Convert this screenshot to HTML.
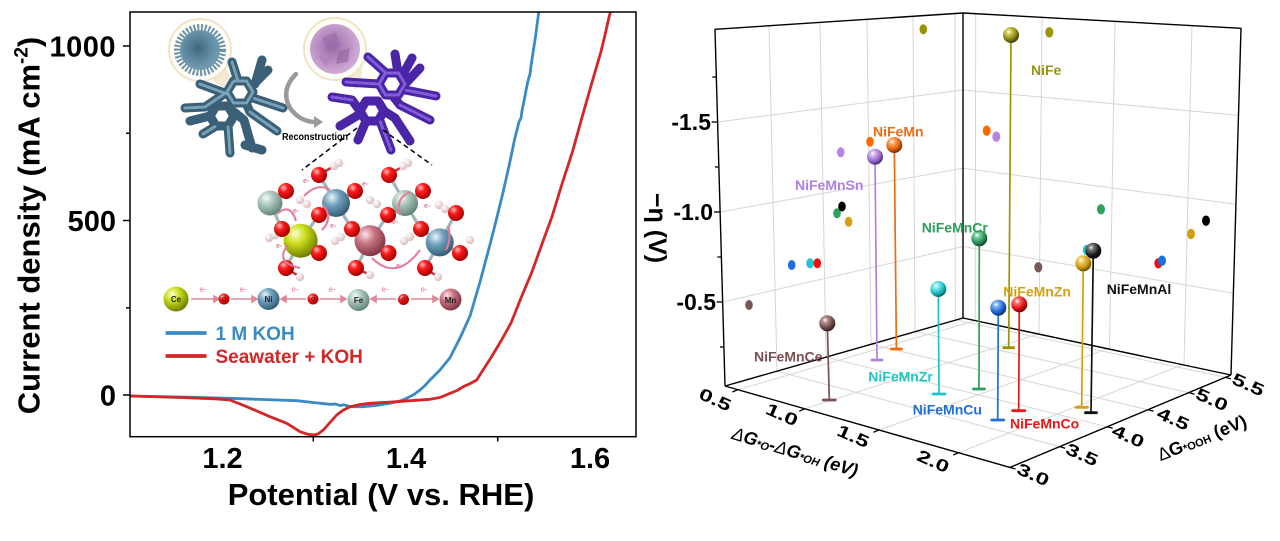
<!DOCTYPE html>
<html><head><meta charset="utf-8"><style>
html,body{margin:0;padding:0;background:#fff}
svg{display:block}
text{font-family:"Liberation Sans",Arial,sans-serif}
</style></head><body>
<svg xmlns="http://www.w3.org/2000/svg" width="1280" height="541" viewBox="0 0 1280 541">
<defs>
<clipPath id="cl"><rect x="130" y="12" width="506" height="424.7"/></clipPath>
<radialGradient id="gOl" cx="0.36" cy="0.3" r="0.75"><stop offset="0" stop-color="#fff"/><stop offset="0.22" stop-color="#d2cc5a"/><stop offset="0.65" stop-color="#85800a"/><stop offset="1" stop-color="#333000"/></radialGradient>
<radialGradient id="gOr" cx="0.36" cy="0.3" r="0.75"><stop offset="0" stop-color="#fff"/><stop offset="0.22" stop-color="#ffa860"/><stop offset="0.65" stop-color="#d85e08"/><stop offset="1" stop-color="#602400"/></radialGradient>
<radialGradient id="gPu" cx="0.36" cy="0.3" r="0.75"><stop offset="0" stop-color="#fff"/><stop offset="0.22" stop-color="#d2b4f0"/><stop offset="0.65" stop-color="#9466cc"/><stop offset="1" stop-color="#402060"/></radialGradient>
<radialGradient id="gGr" cx="0.36" cy="0.3" r="0.75"><stop offset="0" stop-color="#fff"/><stop offset="0.22" stop-color="#7ad0a0"/><stop offset="0.65" stop-color="#2a8c56"/><stop offset="1" stop-color="#0c3a20"/></radialGradient>
<radialGradient id="gCy" cx="0.36" cy="0.3" r="0.75"><stop offset="0" stop-color="#fff"/><stop offset="0.22" stop-color="#80eaea"/><stop offset="0.65" stop-color="#16b8bc"/><stop offset="1" stop-color="#055a5c"/></radialGradient>
<radialGradient id="gBl" cx="0.36" cy="0.3" r="0.75"><stop offset="0" stop-color="#fff"/><stop offset="0.22" stop-color="#7ab0f5"/><stop offset="0.65" stop-color="#1a62d0"/><stop offset="1" stop-color="#08285c"/></radialGradient>
<radialGradient id="gRe" cx="0.36" cy="0.3" r="0.75"><stop offset="0" stop-color="#fff"/><stop offset="0.22" stop-color="#ff7070"/><stop offset="0.65" stop-color="#dc0c0c"/><stop offset="1" stop-color="#600000"/></radialGradient>
<radialGradient id="gGo" cx="0.36" cy="0.3" r="0.75"><stop offset="0" stop-color="#fff"/><stop offset="0.22" stop-color="#f2cf66"/><stop offset="0.65" stop-color="#c8950c"/><stop offset="1" stop-color="#5c4000"/></radialGradient>
<radialGradient id="gBk" cx="0.36" cy="0.3" r="0.75"><stop offset="0" stop-color="#eee"/><stop offset="0.22" stop-color="#777"/><stop offset="0.65" stop-color="#1a1a1a"/><stop offset="1" stop-color="#000"/></radialGradient>
<radialGradient id="gBr" cx="0.36" cy="0.3" r="0.75"><stop offset="0" stop-color="#fff"/><stop offset="0.22" stop-color="#b89090"/><stop offset="0.65" stop-color="#6c4848"/><stop offset="1" stop-color="#2c1818"/></radialGradient>
<radialGradient id="aO" cx="0.35" cy="0.3" r="0.75"><stop offset="0" stop-color="#ffc0c0"/><stop offset="0.35" stop-color="#ff1a1a"/><stop offset="1" stop-color="#9a0000"/></radialGradient>
<radialGradient id="aFe" cx="0.35" cy="0.3" r="0.75"><stop offset="0" stop-color="#f4fbf8"/><stop offset="0.4" stop-color="#aac6ba"/><stop offset="1" stop-color="#5f7f72"/></radialGradient>
<radialGradient id="aNi" cx="0.35" cy="0.3" r="0.75"><stop offset="0" stop-color="#e8f4fb"/><stop offset="0.4" stop-color="#6f9fba"/><stop offset="1" stop-color="#2f5870"/></radialGradient>
<radialGradient id="aCe" cx="0.35" cy="0.3" r="0.75"><stop offset="0" stop-color="#fbffd0"/><stop offset="0.4" stop-color="#c8dc18"/><stop offset="1" stop-color="#6a7800"/></radialGradient>
<radialGradient id="aMn" cx="0.35" cy="0.3" r="0.75"><stop offset="0" stop-color="#fde2e8"/><stop offset="0.4" stop-color="#c87382"/><stop offset="1" stop-color="#7a3040"/></radialGradient>
<radialGradient id="aH" cx="0.35" cy="0.3" r="0.75"><stop offset="0" stop-color="#fff"/><stop offset="1" stop-color="#d8b8b8"/></radialGradient>
<radialGradient id="sph1" cx="0.45" cy="0.45" r="0.6"><stop offset="0" stop-color="#3e6a80"/><stop offset="1" stop-color="#7aa4b8"/></radialGradient>
<radialGradient id="sph2" cx="0.45" cy="0.45" r="0.6"><stop offset="0" stop-color="#9a6aa6"/><stop offset="1" stop-color="#d6b2dc"/></radialGradient>
</defs>

<!-- ================= LEFT PLOT ================= -->
<g>
  <polygon points="210,78 226,68 236,88 228,92" fill="#efe0bf" opacity="0.7"/>
  <polygon points="349,78 362,64 361,84 355,90" fill="#efe0bf" opacity="0.7"/>
  <circle cx="200" cy="50" r="31" fill="#fffdf7" stroke="#f1e4c6" stroke-width="2"/>
  <circle cx="335" cy="49" r="31" fill="#fffdf7" stroke="#f1e4c6" stroke-width="2"/>
  <circle cx="200" cy="50" r="20" fill="url(#sph1)"/>
  <circle cx="200" cy="50" r="22" fill="none" stroke="#6e96aa" stroke-width="8" stroke-dasharray="2 1.6"/>
  <circle cx="335" cy="49" r="25" fill="url(#sph2)"/>
  <polygon points="322,38 336,32 340,46 328,52" fill="#9a6aa8" opacity="0.6"/>
  <polygon points="338,52 350,48 348,62 336,64" fill="#8e5e9c" opacity="0.55"/>
  <polygon points="318,55 330,58 326,68" fill="#a978b5" opacity="0.5"/>
  <!-- blue cage -->
  <g fill="none" stroke-linecap="round" stroke-linejoin="round">
    <g stroke="#3a5f77" stroke-width="9">
      <polygon points="253,92 246.5,103 233.5,103 227,92 233.5,81 246.5,81"/>
      <polygon points="234,116 228,126 216,126 210,116 216,106 228,106"/>
      <path d="M185,108 L205,107 L227,92 M200,84 L227,94 M232,62 L238,81 M268,70 L252,86 M283,108 L253,98 M277,131 L250,112 L246,103 M203,134 L216,126 M230,153 L228,126 M252,148 L244,120 L234,112 M190,121 L210,116 M262,60 L255,84 M245,145 L262,150"/>
    </g>
    <g stroke="#7faabc" stroke-width="3" stroke-dasharray="2 2" opacity="0.9">
      <polygon points="253,92 246.5,103 233.5,103 227,92 233.5,81 246.5,81"/>
      <path d="M185,108 L205,107 L227,92 M232,62 L238,81 M283,108 L253,98 M203,134 L216,126 M230,153 L228,126 M277,131 L250,112 M200,84 L227,94"/>
    </g>
  </g>
  <!-- purple cage -->
  <g fill="none" stroke-linecap="round" stroke-linejoin="round">
    <g stroke="#4a26a6" stroke-width="9">
      <polygon points="405,84 398.5,95 385.5,95 379,84 385.5,73 398.5,73"/>
      <polygon points="384,111 378,121 366,121 360,111 366,101 378,101"/>
      <path d="M332,97 L352,100 L360,111 M346,82 L379,84 M368,57 L386,73 M395,54 L398,73 M420,68 L405,84 M436,96 L405,90 M430,120 L400,105 L392,95 M410,141 L395,118 L384,111 M391,150 L380,121 M358,140 L366,121 M340,126 L360,114 M412,58 L402,76"/>
    </g>
    <g stroke="#8a62e0" stroke-width="3" stroke-dasharray="2 2" opacity="0.9">
      <polygon points="405,84 398.5,95 385.5,95 379,84 385.5,73 398.5,73"/>
      <path d="M332,97 L352,100 M368,57 L386,73 M436,96 L405,90 M391,150 L380,121 M346,82 L379,84 M430,120 L400,105"/>
    </g>
  </g>
  <!-- arrow -->
  <path d="M296,74 Q280,90 290,108 Q300,122 316,122" fill="none" stroke="#9a9a9a" stroke-width="4.5" stroke-linecap="round"/>
  <polygon points="314,116 323,122 314,128" fill="#9a9a9a"/>
  <text x="282" y="140" font-family="Liberation Serif,serif" font-weight="bold" font-size="10" textLength="66" lengthAdjust="spacingAndGlyphs">Reconstruction</text>
  <path d="M357,128 L302,170 M383,130 L432,165" stroke="#000" stroke-width="1.5" stroke-dasharray="5 3.5" fill="none"/>
  <!-- molecule bonds -->
  <g stroke="#9fb6bd" stroke-width="3.2" stroke-linecap="round">
    <path d="M270,203 L286,191 M270,203 L282,229 M336,203 L319,175 M336,203 L355,191 M336,203 L319,215 M336,203 L352,229 M405,203 L389,175 M405,203 L423,191 M405,203 L388,215 M405,203 L421,229 M300,241 L282,229 M300,241 L319,215 M300,241 L319,253 M300,241 L286,268 M370,241 L352,229 M370,241 L388,215 M370,241 L388,253 M370,241 L356,268 M440,242 L421,229 M440,242 L456,213 M440,242 L460,253 M440,242 L425,268"/>
  </g>
  <g stroke="#c83040" stroke-width="2.5">
    <path d="M319,175 L334,166 M389,175 L403,166 M286,268 L300,277 M356,268 L370,275 M425,268 L438,277"/>
  </g>
  <g fill="url(#aH)">
    <circle cx="334" cy="166" r="4.2"/><circle cx="339" cy="163" r="4.2"/>
    <circle cx="403" cy="166" r="4.2"/><circle cx="408" cy="163" r="4.2"/>
    <circle cx="300" cy="200" r="4.2"/><circle cx="307" cy="204" r="4.2"/>
    <circle cx="370" cy="200" r="4.2"/><circle cx="377" cy="204" r="4.2"/>
    <circle cx="439" cy="205" r="4.2"/><circle cx="445" cy="209" r="4.2"/>
    <circle cx="269" cy="238" r="4.2"/><circle cx="275" cy="235" r="4.2"/>
    <circle cx="335" cy="241" r="4.2"/><circle cx="341" cy="237" r="4.2"/>
    <circle cx="404" cy="241" r="4.2"/><circle cx="410" cy="237" r="4.2"/>
    <circle cx="470" cy="240" r="4.2"/>
    <circle cx="300" cy="277" r="4.2"/><circle cx="370" cy="275" r="4.2"/><circle cx="438" cy="277" r="4.2"/>
  </g>
  <circle cx="270" cy="203" r="12.5" fill="url(#aFe)"/>
  <circle cx="336" cy="203" r="14" fill="url(#aNi)"/>
  <circle cx="405" cy="203" r="13" fill="url(#aFe)"/>
  <circle cx="300.6" cy="240.7" r="17" fill="url(#aCe)"/>
  <circle cx="370" cy="240.7" r="15.5" fill="url(#aMn)"/>
  <circle cx="439.7" cy="242.4" r="14" fill="url(#aNi)"/>
  <g fill="url(#aO)">
    <circle cx="319" cy="175" r="8"/><circle cx="389" cy="175" r="8"/>
    <circle cx="286" cy="191" r="8"/><circle cx="355" cy="191" r="8"/><circle cx="423" cy="191" r="8"/>
    <circle cx="319" cy="215" r="8"/><circle cx="388" cy="215" r="8"/><circle cx="456" cy="213" r="8"/>
    <circle cx="282" cy="229" r="8"/><circle cx="352" cy="229" r="8"/><circle cx="421" cy="229" r="8"/>
    <circle cx="319" cy="253" r="8"/><circle cx="388.5" cy="253" r="8"/><circle cx="460" cy="253" r="8"/>
    <circle cx="286" cy="268" r="8"/><circle cx="356" cy="268" r="8"/><circle cx="425" cy="268" r="8"/>
  </g>
  <g fill="none" stroke="#e6789a" stroke-width="2">
    <path d="M277,214 Q290,202 296,221"/>
    <path d="M304,196 Q318,182 330,190"/>
    <path d="M288,245 Q274,262 300,268"/>
    <path d="M322,230 Q334,218 323,205"/>
    <path d="M372,258 Q396,282 420,250"/>
    <path d="M400,215 Q395,198 410,192"/>
    <path d="M448,226 Q452,238 446,250"/>
  </g>
  <g fill="#e6789a" font-size="7" font-weight="bold">
    <text x="303" y="183">e-</text><text x="293" y="213">e-</text><text x="276" y="248">e-</text>
    <text x="330" y="228">e-</text><text x="396" y="268">e-</text><text x="392" y="224">e-</text>
    <text x="424" y="208">e-</text><text x="362" y="186">e-</text>
  </g>
  <!-- equation row -->
  <g stroke="#e08898" stroke-width="1.6" fill="#e08898">
    <line x1="191" y1="299" x2="214" y2="299"/><polygon points="214,296 219,299 214,302"/>
    <line x1="231" y1="299" x2="252" y2="299"/><polygon points="252,296 257,299 252,302"/>
    <line x1="286" y1="299" x2="306" y2="299"/><polygon points="286,296 281,299 286,302"/>
    <line x1="320" y1="299" x2="341" y2="299"/><polygon points="341,296 346,299 341,302"/>
    <line x1="376" y1="299" x2="396" y2="299"/><polygon points="376,296 371,299 376,302"/>
    <line x1="411" y1="299" x2="433" y2="299"/><polygon points="433,296 438,299 433,302"/>
  </g>
  <g fill="#e6789a" font-size="8" text-anchor="middle">
    <text x="203" y="292">e-</text><text x="243" y="292">e-</text><text x="295" y="292">e-</text>
    <text x="332" y="292">e-</text><text x="385" y="292">e-</text><text x="424" y="292">e-</text>
  </g>
  <circle cx="176" cy="299" r="12.5" fill="url(#aCe)"/>
  <circle cx="224" cy="299" r="5.5" fill="url(#aO)"/>
  <circle cx="268.5" cy="299" r="11" fill="url(#aNi)"/>
  <circle cx="313" cy="299" r="5.5" fill="url(#aO)"/>
  <circle cx="358.5" cy="300" r="11" fill="url(#aFe)"/>
  <circle cx="403.5" cy="299.5" r="5.5" fill="url(#aO)"/>
  <circle cx="450.5" cy="299.5" r="11" fill="url(#aMn)"/>
  <g font-size="8" font-weight="bold" text-anchor="middle" fill="#222">
    <text x="176" y="302">Ce</text><text x="268.5" y="302">Ni</text><text x="358.5" y="303">Fe</text><text x="450.5" y="303">Mn</text>
  </g>
  <g font-size="5.5" font-weight="bold" text-anchor="middle" fill="#600">
    <text x="224" y="301">O</text><text x="313" y="301">O</text><text x="403.5" y="301.5">O</text>
  </g>
</g>

<!-- curves -->
<g clip-path="url(#cl)" fill="none" stroke-width="2.8" stroke-linejoin="round">
  <polyline stroke="#3a8ac6" points="130,396 180,397 230,398.3 263,399.5 296.7,400.7 313,402.5 330,404.3 336,404 340,405.6 344,404.8 350,406.7 363,406.7 376,405.5 390,403.3 400,401 406.7,398.3 414,394.5 420,390 425,385.5 430,380 440,370 450,357.6 460,338 470,316 480,282 491,240.7 497,217 503,192.6 509,166 515,137.6 519,122 521,118 522,111 527.6,82.5 530,74 531,66 535.8,34.4 539,10"/>
  <polyline stroke="#d42626" points="130,396 180,397.5 215,398.8 230,400 246.7,406.7 258,411.5 270,416.7 286.7,423.3 300,431.7 307,434 313.3,435 318,434 323.3,430 330,422.5 336.7,415 343,410.3 350,406.7 360,404.5 370,403.3 396.7,401.7 430,399.3 440,397.5 450,393.3 457,390.5 463.3,386.7 470,383.6 476.7,380 483,370 491,357.6 501,341 511,323 521,298 532,271.7 542,244 552,216.6 562,184 572.6,151.3 581,121 589,92.8 595,72 601,51.6 605,35 609,17.2 611,10"/>
</g>
<rect x="130" y="12" width="506" height="424.7" fill="none" stroke="#000" stroke-width="1.5"/>
<g stroke="#000" stroke-width="1.5">
  <line x1="123" y1="46" x2="130" y2="46"/><line x1="123" y1="220.5" x2="130" y2="220.5"/><line x1="123" y1="395" x2="130" y2="395"/>
  <line x1="126" y1="133.3" x2="130" y2="133.3"/><line x1="126" y1="307.8" x2="130" y2="307.8"/>
  <line x1="313.3" y1="436.7" x2="313.3" y2="441.5"/><line x1="497.7" y1="436.7" x2="497.7" y2="441.5"/>
</g>
<g font-size="29" font-weight="bold" text-anchor="end" fill="#000">
  <text x="116" y="56.4" letter-spacing="0.5">1000</text>
  <text x="116" y="231">500</text>
  <text x="116" y="405.5">0</text>
</g>
<g font-size="29" font-weight="bold" text-anchor="middle" fill="#000">
  <text x="222.5" y="468">1.2</text>
  <text x="406" y="468">1.4</text>
  <text x="590" y="468">1.6</text>
</g>
<text x="381" y="505" font-size="31" font-weight="bold" text-anchor="middle">Potential (V vs. RHE)</text>
<text transform="translate(39.5,225.5) rotate(-90)" font-size="31" font-weight="bold" text-anchor="middle">Current density (mA cm<tspan font-size="19" dy="-12">-2</tspan><tspan dy="12">)</tspan></text>
<line x1="165.6" y1="333" x2="206.5" y2="333" stroke="#3a8ac6" stroke-width="3.8"/>
<line x1="165.6" y1="356" x2="206.5" y2="356" stroke="#d42626" stroke-width="3.8"/>
<text x="215.5" y="340" font-size="19" font-weight="bold" fill="#3a8ac6">1 M KOH</text>
<text x="215.5" y="363" font-size="19" font-weight="bold" fill="#d42626">Seawater + KOH</text>

<!-- ================= RIGHT 3D PLOT ================= -->
<g stroke="#d6d6d6" stroke-width="1" fill="none">
  <line x1="717.6" y1="122" x2="963" y2="89.9"/>
  <line x1="720.1" y1="212" x2="963" y2="168.2"/>
  <line x1="722.6" y1="302" x2="963" y2="246.5"/>
  <line x1="963" y1="89.9" x2="1238.5" y2="115.4"/>
  <line x1="963" y1="168.2" x2="1236" y2="204.3"/>
  <line x1="963" y1="246.5" x2="1233.5" y2="293.2"/>
  <line x1="769" y1="25.8" x2="777" y2="371.1"/>
  <line x1="820" y1="22.4" x2="826" y2="357.1"/>
  <line x1="867" y1="19.3" x2="871" y2="344.3"/>
  <line x1="913" y1="16.3" x2="915" y2="331.7"/>
  <line x1="955" y1="13.5" x2="955.3" y2="320.2"/>
  <line x1="975.7" y1="13.7" x2="975.2" y2="320.6"/>
  <line x1="1042" y1="17.3" x2="1039" y2="334.2"/>
  <line x1="1115" y1="21.4" x2="1109.5" y2="349.2"/>
  <line x1="1192" y1="25.6" x2="1184" y2="365"/>
  <line x1="737.8" y1="389.7" x2="975.1" y2="320.6"/>
  <line x1="804.8" y1="408.8" x2="1038" y2="334"/>
  <line x1="878.9" y1="430" x2="1107.7" y2="348.8"/>
  <line x1="958.7" y1="452.7" x2="1182.8" y2="364.7"/>
  <line x1="776.9" y1="371.2" x2="1059.7" y2="446.6"/>
  <line x1="825.9" y1="357.2" x2="1107.2" y2="426.7"/>
  <line x1="870.9" y1="344.3" x2="1148.1" y2="409.7"/>
  <line x1="915.4" y1="331.6" x2="1189" y2="392.6"/>
  <line x1="955.9" y1="320" x2="1225.5" y2="377.3"/>
</g>
<g stroke="#000" stroke-width="1.4" fill="none" stroke-linejoin="round">
  <polyline points="725,386 715,29.3 963,13 1241,28.3 1231,375"/>
  <line x1="963" y1="13" x2="963" y2="318"/>
  <polyline points="725,386 963,318 1231,375"/>
  <polyline points="725,386 1010,467.4 1231,375"/>
</g>
<g stroke="#000" stroke-width="1.3">
  <line x1="711.6" y1="122" x2="717.6" y2="122"/>
  <line x1="714.1" y1="212" x2="720.1" y2="212"/>
  <line x1="716.6" y1="302" x2="722.6" y2="302"/>
  <line x1="712.3" y1="77" x2="716.3" y2="77"/>
  <line x1="714.9" y1="167" x2="718.9" y2="167"/>
  <line x1="717.4" y1="257" x2="721.4" y2="257"/>
  <line x1="719.9" y1="347" x2="723.9" y2="347"/>
  <line x1="737.8" y1="389.7" x2="732.3" y2="392"/>
  <line x1="804.8" y1="408.8" x2="799.3" y2="411.1"/>
  <line x1="878.9" y1="430" x2="873.4" y2="432.3"/>
  <line x1="958.7" y1="452.7" x2="953.2" y2="455"/>
  <line x1="1010" y1="467.4" x2="1015.5" y2="469"/>
  <line x1="1059.7" y1="446.6" x2="1065.2" y2="448.2"/>
  <line x1="1107.2" y1="426.7" x2="1112.7" y2="428.3"/>
  <line x1="1148.1" y1="409.7" x2="1153.6" y2="411.3"/>
  <line x1="1189" y1="392.6" x2="1194.5" y2="394.2"/>
  <line x1="1225.5" y1="377.3" x2="1231" y2="378.9"/>
</g>
<g font-size="23" font-weight="bold" text-anchor="end" dominant-baseline="central">
  <text x="711" y="122">-1.5</text>
  <text x="713" y="212">-1.0</text>
  <text x="716" y="302">-0.5</text>
</g>
<text transform="translate(649,228) rotate(90)" font-size="25" font-weight="bold" text-anchor="middle">−η (V)</text>
<g font-size="20" font-weight="bold" text-anchor="middle" dominant-baseline="central">
  <text transform="translate(715,400) rotate(24) scale(1.2,0.85)">0.5</text>
  <text transform="translate(781.7,415) rotate(24) scale(1.2,0.85)">1.0</text>
  <text transform="translate(853,436.7) rotate(24) scale(1.2,0.85)">1.5</text>
  <text transform="translate(933,461.7) rotate(24) scale(1.2,0.85)">2.0</text>
  <text transform="translate(1033,475) rotate(24) scale(1.2,0.85)">3.0</text>
  <text transform="translate(1081.7,455) rotate(24) scale(1.2,0.85)">3.5</text>
  <text transform="translate(1128,436.7) rotate(24) scale(1.2,0.85)">4.0</text>
  <text transform="translate(1173,419.3) rotate(24) scale(1.2,0.85)">4.5</text>
  <text transform="translate(1211.7,400) rotate(24) scale(1.2,0.85)">5.0</text>
  <text transform="translate(1248,385) rotate(24) scale(1.2,0.85)">5.5</text>
</g>
<text transform="translate(795,452) rotate(17)" font-size="18" font-weight="bold" font-style="italic" text-anchor="middle" dominant-baseline="central"><tspan font-weight="normal">Δ</tspan>G<tspan font-size="11" dy="4">*O</tspan><tspan dy="-4">-</tspan><tspan font-weight="normal">Δ</tspan>G<tspan font-size="11" dy="4">*OH</tspan><tspan dy="-4"> (eV)</tspan></text>
<text transform="translate(1202,438) rotate(-22)" font-size="18" font-weight="bold" text-anchor="middle" dominant-baseline="central"><tspan font-weight="normal">Δ</tspan>G<tspan font-size="11" dy="4">*OOH</tspan><tspan dy="-4"> (eV)</tspan></text>

<g>
  <ellipse cx="923.3" cy="29.3" rx="3.8" ry="5" fill="#9a9400"/>
  <ellipse cx="870" cy="141.7" rx="3.8" ry="5" fill="#ff6a00"/>
  <ellipse cx="840.7" cy="152.3" rx="3.8" ry="5" fill="#b882e6"/>
  <ellipse cx="837" cy="213.3" rx="3.8" ry="5" fill="#2ea060"/>
  <ellipse cx="842" cy="206.5" rx="3.8" ry="5" fill="#000"/>
  <ellipse cx="848.6" cy="221.8" rx="3.8" ry="5" fill="#d4a010"/>
  <ellipse cx="791.7" cy="265" rx="3.8" ry="5" fill="#1f6ee0"/>
  <ellipse cx="810" cy="263.3" rx="3.8" ry="5" fill="#20c8cc"/>
  <ellipse cx="817.3" cy="263.3" rx="3.8" ry="5" fill="#ee1010"/>
  <ellipse cx="749" cy="305" rx="3.8" ry="5" fill="#7a5555"/>
  <ellipse cx="1049.3" cy="32.3" rx="4" ry="5.2" fill="#9a9400"/>
  <ellipse cx="986.7" cy="130.7" rx="4" ry="5.2" fill="#ff6a00"/>
  <ellipse cx="996.3" cy="136.7" rx="4" ry="5.2" fill="#b882e6"/>
  <ellipse cx="1101" cy="209.3" rx="4" ry="5.2" fill="#2ea060"/>
  <ellipse cx="1206" cy="220.7" rx="4" ry="5.2" fill="#000"/>
  <ellipse cx="1191" cy="234" rx="4" ry="5.2" fill="#d4a010"/>
  <ellipse cx="1158.3" cy="263.3" rx="4" ry="5.2" fill="#ee1010"/>
  <ellipse cx="1162" cy="260.7" rx="4" ry="5.2" fill="#1f6ee0"/>
  <ellipse cx="1086.7" cy="250" rx="4" ry="5.2" fill="#20c8cc"/>
  <ellipse cx="1038.3" cy="267.3" rx="4" ry="5.2" fill="#7a5555"/>
</g>

<g stroke-width="1.7" stroke-linecap="round">
  <line x1="1011" y1="35" x2="1008.7" y2="347.7" stroke="#9a9400"/>
  <line x1="1003.7" y1="347.7" x2="1013.7" y2="347.7" stroke="#9a9400" stroke-width="2.8"/>
  <line x1="894.3" y1="145" x2="896.4" y2="349" stroke="#f06a10"/>
  <line x1="891.4" y1="349" x2="901.4" y2="349" stroke="#f06a10" stroke-width="2.8"/>
  <line x1="875" y1="156.7" x2="877" y2="360" stroke="#b080e0"/>
  <line x1="872" y1="360" x2="882" y2="360" stroke="#b080e0" stroke-width="2.8"/>
  <line x1="979.3" y1="238.3" x2="979" y2="389" stroke="#2e9e5e"/>
  <line x1="973.5" y1="389" x2="984.5" y2="389" stroke="#2e9e5e" stroke-width="2.8"/>
  <line x1="938.3" y1="289" x2="939" y2="394" stroke="#20c4c8"/>
  <line x1="933" y1="394" x2="945" y2="394" stroke="#20c4c8" stroke-width="2.8"/>
  <line x1="1093.3" y1="250.7" x2="1091" y2="412.7" stroke="#111"/>
  <line x1="1085.5" y1="412.7" x2="1096.5" y2="412.7" stroke="#111" stroke-width="2.8"/>
  <line x1="1083.3" y1="263.3" x2="1081.7" y2="407.3" stroke="#d4a010"/>
  <line x1="1076" y1="407.3" x2="1087.5" y2="407.3" stroke="#d4a010" stroke-width="2.8"/>
  <line x1="827.3" y1="323.3" x2="829.3" y2="400" stroke="#7a5050"/>
  <line x1="823.3" y1="400" x2="835.3" y2="400" stroke="#7a5050" stroke-width="2.8"/>
  <line x1="998.3" y1="307.7" x2="997.7" y2="420" stroke="#1f6ed8"/>
  <line x1="991.7" y1="420" x2="1003.7" y2="420" stroke="#1f6ed8" stroke-width="2.8"/>
  <line x1="1019.3" y1="304.3" x2="1018.7" y2="410.7" stroke="#e81818"/>
  <line x1="1012.7" y1="410.7" x2="1024.7" y2="410.7" stroke="#e81818" stroke-width="2.8"/>
</g>
<g>
  <circle cx="1011" cy="35" r="8" fill="url(#gOl)"/>
  <circle cx="894.3" cy="145" r="8" fill="url(#gOr)"/>
  <circle cx="875" cy="156.7" r="8" fill="url(#gPu)"/>
  <circle cx="979.3" cy="238.3" r="8" fill="url(#gGr)"/>
  <circle cx="938.3" cy="289" r="8" fill="url(#gCy)"/>
  <circle cx="1093.3" cy="250.7" r="8" fill="url(#gBk)"/>
  <circle cx="1083.3" cy="263.3" r="8" fill="url(#gGo)"/>
  <circle cx="827.3" cy="323.3" r="8" fill="url(#gBr)"/>
  <circle cx="998.3" cy="307.7" r="8" fill="url(#gBl)"/>
  <circle cx="1019.3" cy="304.3" r="8" fill="url(#gRe)"/>
</g>
<g font-size="14" font-weight="bold" dominant-baseline="central">
  <text x="1031" y="70" fill="#999410">NiFe</text>
  <text x="873" y="131.7" fill="#f06a10">NiFeMn</text>
  <text x="795" y="185" fill="#b080e0">NiFeMnSn</text>
  <text x="921.7" y="227.3" fill="#2e9e5e">NiFeMnCr</text>
  <text x="868.3" y="376.7" fill="#20c4c8">NiFeMnZr</text>
  <text x="912.7" y="409.3" fill="#1f6ed8">NiFeMnCu</text>
  <text x="1010" y="423.3" fill="#e81818">NiFeMnCo</text>
  <text x="1003.3" y="291.7" fill="#d4a010">NiFeMnZn</text>
  <text x="1106.7" y="289" fill="#111">NiFeMnAl</text>
  <text x="754" y="356.7" fill="#7a5050">NiFeMnCe</text>
</g>
</svg>
</body></html>
